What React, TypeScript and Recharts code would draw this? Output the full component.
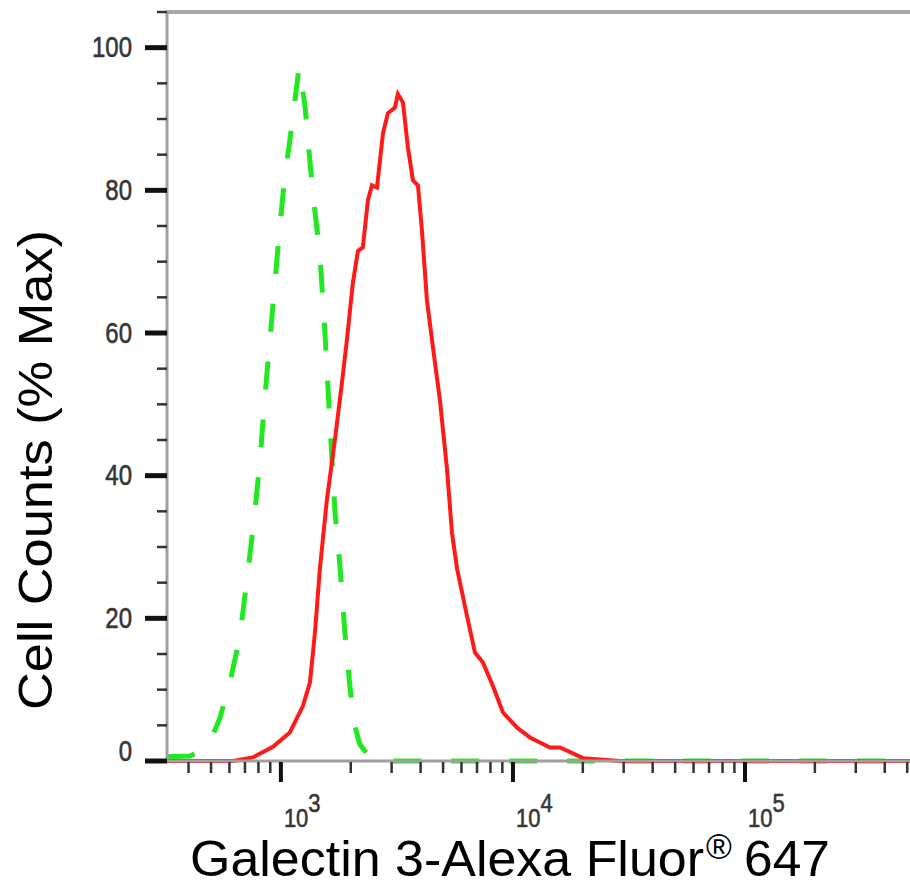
import { Label, Line, LineChart, ReferenceLine, XAxis, YAxis } from "recharts";

// sample (red, solid) — fluorescence intensity vs % max
const sampleX = [323, 621, 757, 924, 1093, 1244, 1334, 1402, 1473, 1578, 1709, 1832, 1925, 2042, 2148, 2255, 2371, 2468, 2594, 2754, 2891, 3099, 3193, 3357, 3527, 3707, 3896, 4053, 4259, 4520, 4845, 5195, 5461, 5740, 6340, 6860, 7425, 8200, 9055, 10400, 11840, 14430, 15950, 20040, 28900, 514000];
const sampleY = [0, 0, 0.5, 2, 4, 7.7, 11, 18, 27, 36.6, 45, 53, 59, 67, 71.5, 72, 78.6, 80.7, 80.4, 88, 90.8, 91.6, 93.5, 92.3, 86, 81.4, 80.7, 74.4, 64.6, 58, 50.6, 41, 32, 27, 20.3, 15.2, 13.8, 10.5, 6.8, 4.7, 3.3, 1.9, 1.9, 0.4, 0, 0];

// isotype control (green, dashed)
const controlX = [323, 405, 448, 496, 546, 603, 666, 736, 773, 812, 853, 897, 942, 990, 1040, 1093, 1149, 1196, 1269, 1334, 1402, 1473, 1548, 1626, 1709, 1790, 1887, 1983, 2080, 2191, 2421, 2672, 514000];
const controlY = [0.6, 0.7, 1.3, 2.8, 6, 11, 17.5, 29, 35, 42, 51, 59, 67, 75, 82, 87, 92.5, 97.2, 92, 84, 77, 71, 60, 47.5, 35, 28, 18, 10.5, 5, 2.3, 0.5, 0, 0];

const xMajor = [1000, 10000, 100000];
const xTicks = [400, 500, 600, 700, 800, 900, 1000, 2000, 3000, 4000, 5000, 6000, 7000, 8000, 9000, 10000, 20000, 30000, 40000, 50000, 60000, 70000, 80000, 90000, 100000, 200000, 300000, 400000, 500000];
const yMajor = [0, 20, 40, 60, 80, 100];
const yTicks = [0, 5, 10, 15, 20, 25, 30, 35, 40, 45, 50, 55, 60, 65, 70, 75, 80, 85, 90, 95, 100, 105];

const sample = sampleX.map((x, i) => ({ x, y: sampleY[i] }));
const control = controlX.map((x, i) => ({ x, y: controlY[i] }));

const FONT = "'Liberation Sans', Arial, Helvetica, sans-serif";
const TICK_TEXT = "#363636";

function XTick(props: any) {
  const { x, y, payload } = props;
  const v = payload.value;
  const major = xMajor.includes(v);
  const exp = Math.round(Math.log10(v));
  return (
    <g>
      <line x1={x} x2={x} y1={y + 1} y2={y + (major ? 21 : 12)} stroke={major ? "#111" : "#333"} strokeWidth={major ? 4 : 2.5} />
      {major && (
        <text
          transform={`translate(${x + 3},${y + 66}) scale(1,1.2)`}
          fontSize={22}
          fill={TICK_TEXT}
          stroke={TICK_TEXT}
          strokeWidth={0.5}
          fontFamily={FONT}
        >
          10<tspan dy={-12.5}>{exp}</tspan>
        </text>
      )}
    </g>
  );
}

function YTick(props: any) {
  const { x, y, payload } = props;
  const v = payload.value;
  const major = yMajor.includes(v);
  return (
    <g>
      <line x1={x - (major ? 22 : 10)} x2={x} y1={y} y2={y} stroke={major ? "#111" : "#333"} strokeWidth={major ? 5 : 2.5} />
      {major && (
        <text
          transform={`translate(${x - 35},${y + (v === 0 ? -10 : 0)}) scale(1,1.2)`}
          fontSize={24}
          fill={TICK_TEXT}
          stroke={TICK_TEXT}
          strokeWidth={0.5}
          textAnchor="end"
          dominantBaseline="central"
          fontFamily={FONT}
        >
          {v}
        </text>
      )}
    </g>
  );
}

const yTitle = () => (
  <text
    transform="translate(52,470) rotate(-90)"
    textAnchor="middle"
    fontSize={48}
    textLength={480}
    lengthAdjust="spacingAndGlyphs"
    fill="#000"
    fontFamily={FONT}
  >
    Cell Counts (% Max)
  </text>
);

const xTitle = () => (
  <g fill="#000" fontFamily={FONT}>
    <text x={190} y={876} fontSize={50} textLength={514} lengthAdjust="spacingAndGlyphs">
      Galectin 3-Alexa Fluor
    </text>
    <text x={706} y={859} fontSize={35}>
      ®
    </text>
    <text x={744} y={876} fontSize={50} textLength={86} lengthAdjust="spacingAndGlyphs">
      647
    </text>
  </g>
);

export default function App() {
  return (
    <div style={{ position: "absolute", left: 0, top: 0, width: 910, height: 888, background: "#fff" }}>
      <LineChart width={910} height={888} margin={{ top: 12, right: 0, bottom: 0, left: 0 }}>
        <XAxis
          type="number"
          dataKey="x"
          scale="log"
          domain={[323, 514000]}
          ticks={xTicks}
          interval={0}
          tick={<XTick />}
          tickLine={false}
          tickSize={0}
          tickMargin={0}
          height={127}
          axisLine={{ stroke: "#a0a0a0", strokeWidth: 3 }}
        >
          <Label content={xTitle} />
        </XAxis>
        <YAxis
          type="number"
          domain={[0, 105]}
          ticks={yTicks}
          interval={0}
          tick={<YTick />}
          tickLine={false}
          tickSize={0}
          tickMargin={0}
          width={167}
          axisLine={{ stroke: "#a0a0a0", strokeWidth: 3 }}
        >
          <Label content={yTitle} />
        </YAxis>
        <ReferenceLine y={105} stroke="#a8a8a8" strokeWidth={4} />
        <Line
          data={control}
          dataKey="y"
          type="linear"
          stroke="#22e822"
          strokeWidth={5}
          strokeDasharray="28 30"
          dot={false}
          isAnimationActive={false}
        />
        <Line
          data={sample}
          dataKey="y"
          type="linear"
          stroke="#ff1a1a"
          strokeWidth={4}
          dot={false}
          isAnimationActive={false}
        />
      </LineChart>
    </div>
  );
}
